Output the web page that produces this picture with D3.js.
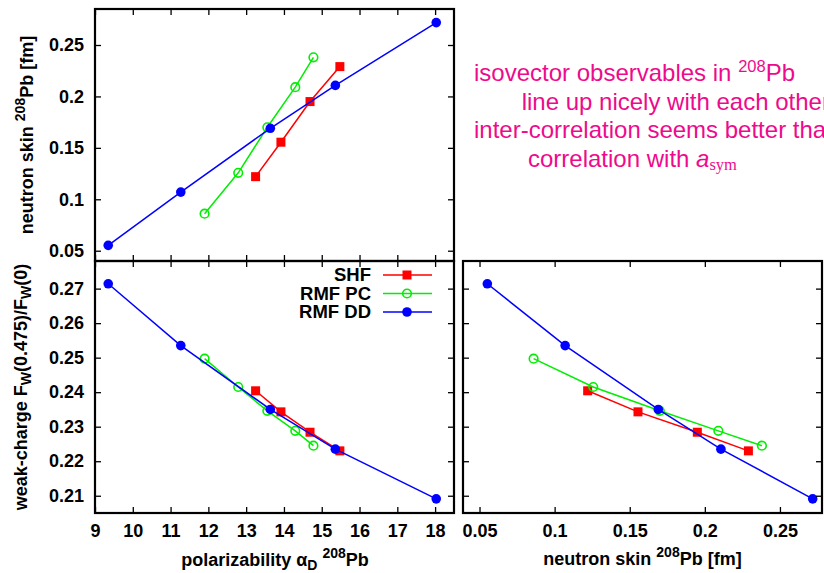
<!DOCTYPE html>
<html>
<head>
<meta charset="utf-8">
<script src="https://cdn.jsdelivr.net/npm/d3@7"></script>
<style>
  html, body { margin: 0; padding: 0; background: #fff; }
  svg { display: block; }
  text { font-family: "Liberation Sans", Arial, Helvetica, sans-serif; }
</style>
</head>
<body>
<svg id="chart" width="824" height="573"></svg>
<script>
// ---- data ----
const seriesNames = ["SHF", "RMF PC", "RMF DD"];
const alphaSHF = [13.25, 13.92, 14.69, 15.48];
const skinSHF  = [0.122, 0.1555, 0.195, 0.229];
const fwSHF    = [0.2404, 0.2343, 0.2284, 0.2230];
const alphaPC  = [11.90, 12.79, 13.56, 14.30, 14.78];
const skinPC   = [0.086, 0.1257, 0.170, 0.209, 0.238];
const fwPC     = [0.2497, 0.2415, 0.2346, 0.2288, 0.2245];
const alphaDD  = [9.35, 11.27, 13.64, 15.36, 18.03];
const skinDD   = [0.0552, 0.107, 0.169, 0.2107, 0.2718];
const fwDD     = [0.2714, 0.2535, 0.2350, 0.2235, 0.2091];
const alphaTicks = [9, 10, 11, 12, 13, 14, 15, 16, 17, 18];
const skinTicks  = [0.05, 0.1, 0.15, 0.2, 0.25];
const fwTicks    = [0.21, 0.22, 0.23, 0.24, 0.25, 0.26, 0.27];

const colors = { "SHF": "#ff0000", "RMF PC": "#00ee00", "RMF DD": "#0000ff" };
const markers = { "SHF": "square", "RMF PC": "ocircle", "RMF DD": "fcircle" };

const series = [
  { name: seriesNames[0], alpha: alphaSHF, skin: skinSHF, fw: fwSHF },
  { name: seriesNames[1], alpha: alphaPC, skin: skinPC, fw: fwPC },
  { name: seriesNames[2], alpha: alphaDD, skin: skinDD, fw: fwDD }
];

const svg = d3.select("#chart");
const FONT = 18;

// panel geometry
const P = {
  tl: { x0: 95, x1: 454, y0: 9, y1: 261 },
  bl: { x0: 95, x1: 454, y0: 261, y1: 513 },
  br: { x0: 463, x1: 822, y0: 261, y1: 513 }
};

const xAlpha = d3.scaleLinear().domain([9, 18.5]).range([P.bl.x0, P.bl.x1]);
const ySkin = d3.scaleLinear().domain([0.04, 0.285]).range([P.tl.y1, P.tl.y0]);
const yFw = d3.scaleLinear().domain([0.205, 0.278]).range([P.bl.y1, P.bl.y0]);
const xSkin = d3.scaleLinear().domain([0.039, 0.278]).range([P.br.x0, P.br.x1]);

const fmt = d => String(+d.toFixed(3));
const TS = 6;

function axes(p, xs, xt, ys, yt, xLabels, yLabels) {
  const g = svg.append("g");
  g.append("g").attr("transform", `translate(0,${p.y1})`)
    .call(d3.axisBottom(xs).tickValues(xt).tickSize(-TS).tickPadding(11)
      .tickFormat(xLabels ? fmt : () => ""));
  g.append("g").attr("transform", `translate(0,${p.y0})`)
    .call(d3.axisTop(xs).tickValues(xt).tickSize(-TS).tickFormat(() => ""));
  g.append("g").attr("transform", `translate(${p.x0},0)`)
    .call(d3.axisLeft(ys).tickValues(yt).tickSize(-TS).tickPadding(11)
      .tickFormat(yLabels ? fmt : () => ""));
  g.append("g").attr("transform", `translate(${p.x1},0)`)
    .call(d3.axisRight(ys).tickValues(yt).tickSize(-TS).tickFormat(() => ""));
  g.selectAll(".domain").remove();
  g.selectAll(".tick line").attr("stroke", "#000").attr("stroke-width", 1.3);
  g.selectAll(".tick text").attr("fill", "#000")
    .style("font-size", FONT + "px").style("font-weight", "bold")
    .style("font-family", '"Liberation Sans", Arial, sans-serif');
  svg.append("rect").attr("x", p.x0).attr("y", p.y0)
    .attr("width", p.x1 - p.x0).attr("height", p.y1 - p.y0)
    .attr("fill", "none").attr("stroke", "#000").attr("stroke-width", 2.2);
}

function drawMarker(g, type, x, y, col) {
  if (type === "square") {
    g.append("rect").attr("x", x - 4.5).attr("y", y - 4.5).attr("width", 9).attr("height", 9).attr("fill", col);
  } else if (type === "ocircle") {
    g.append("circle").attr("cx", x).attr("cy", y).attr("r", 4.3).attr("fill", "none")
      .attr("stroke", col).attr("stroke-width", 1.6);
  } else {
    g.append("circle").attr("cx", x).attr("cy", y).attr("r", 4.8).attr("fill", col);
  }
}

function plotPanel(xs, ys, xKey, yKey) {
  const g = svg.append("g");
  series.forEach(s => {
    const pts = s[xKey].map((v, i) => [xs(v), ys(s[yKey][i])]);
    g.append("path").attr("d", d3.line()(pts)).attr("fill", "none")
      .attr("stroke", colors[s.name]).attr("stroke-width", 1.5);
    pts.forEach(p => drawMarker(g, markers[s.name], p[0], p[1], colors[s.name]));
  });
}

plotPanel(xAlpha, ySkin, "alpha", "skin");
plotPanel(xAlpha, yFw, "alpha", "fw");
plotPanel(xSkin, yFw, "skin", "fw");

axes(P.tl, xAlpha, alphaTicks, ySkin, skinTicks, false, true);
axes(P.bl, xAlpha, alphaTicks, yFw, fwTicks, true, true);
axes(P.br, xSkin, skinTicks, yFw, fwTicks, true, false);

// legend
const leg = svg.append("g");
series.forEach((s, i) => {
  const y = 275 + i * 18.5;
  leg.append("text").attr("x", 371).attr("y", y).attr("dy", "0.35em")
    .attr("text-anchor", "end").style("font-size", "18.5px").style("font-weight", "bold")
    .text(s.name);
  leg.append("line").attr("x1", 383).attr("x2", 432).attr("y1", y).attr("y2", y)
    .attr("stroke", colors[s.name]).attr("stroke-width", 1.5);
  drawMarker(leg, markers[s.name], 407, y, colors[s.name]);
});

// axis labels
function label(x, y, rot, parts) {
  const t = svg.append("text").attr("transform", `translate(${x},${y}) rotate(${rot})`)
    .attr("text-anchor", "middle").style("font-size", FONT + "px").style("font-weight", "bold");
  parts.forEach(p => {
    const ts = t.append("tspan").text(p.t);
    if (p.sup) ts.attr("dy", -8).style("font-size", "14px");
    if (p.sub) ts.attr("dy", 4).style("font-size", "14px");
    if (p.back) ts.attr("dy", p.back);
  });
  return t;
}

label(33, 135, -90, [
  { t: "neutron skin " }, { t: "208", sup: true }, { t: "Pb [fm]", back: 8 }
]);
label(27, 387, -90, [
  { t: "weak-charge F" }, { t: "W", sub: true }, { t: "(0.475)/F", back: -4 },
  { t: "W", sub: true }, { t: "(0)", back: -4 }
]);
label(275, 566, 0, [
  { t: "polarizability α" }, { t: "D", sub: true }, { t: " ", back: -4 },
  { t: "208", sup: true }, { t: "Pb", back: 8 }
]);
label(642.5, 565, 0, [
  { t: "neutron skin " }, { t: "208", sup: true }, { t: "Pb [fm]", back: 8 }
]);

// annotation
const MAG = "#ee0a8c";
const ann = svg.append("g").attr("fill", MAG).style("font-size", "24px");
const l1 = ann.append("text").attr("x", 474).attr("y", 81);
l1.append("tspan").text("isovector observables in ");
l1.append("tspan").attr("dy", -9).style("font-size", "16.5px").text("208");
l1.append("tspan").attr("dy", 9).text("Pb");
ann.append("text").attr("x", 521.7).attr("y", 109.5).text("line up nicely with each other");
ann.append("text").attr("x", 474).attr("y", 138).text("inter-correlation seems better than");
const l4 = ann.append("text").attr("x", 528).attr("y", 166.5);
l4.append("tspan").text("correlation with ");
l4.append("tspan").style("font-style", "italic").text("a");
l4.append("tspan").attr("dy", 3).style("font-size", "16.5px")
  .style("font-family", '"Liberation Serif", "Times New Roman", serif').text("sym");
</script>
</body>
</html>
